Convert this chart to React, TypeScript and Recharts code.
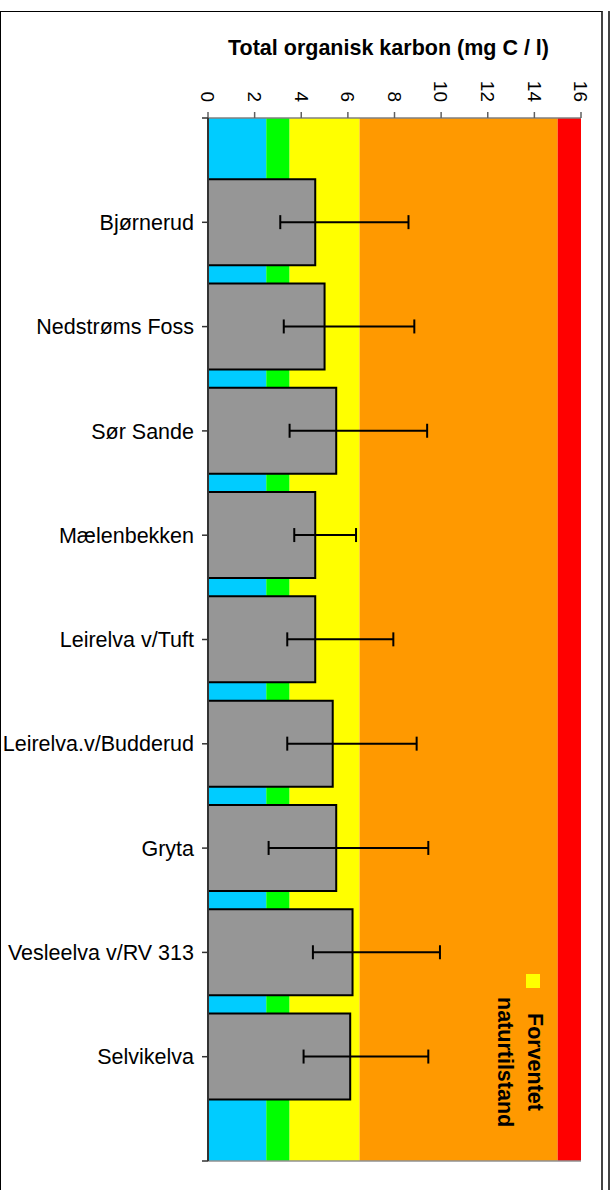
import React from 'react';
import {
  BarChart,
  Bar,
  XAxis,
  YAxis,
  ErrorBar,
  ReferenceArea,
  ReferenceLine,
  Legend,
  Customized,
} from 'recharts';

// ---- data ----
const SITES = [
  'Bjørnerud',
  'Nedstrøms Foss',
  'Sør Sande',
  'Mælenbekken',
  'Leirelva v/Tuft',
  'Leirelva.v/Budderud',
  'Gryta',
  'Vesleelva v/RV 313',
  'Selvikelva',
];
const MEAN = [4.6, 5.0, 5.5, 4.6, 4.6, 5.35, 5.5, 6.2, 6.1];
const LOW = [3.1, 3.25, 3.5, 3.7, 3.4, 3.4, 2.6, 4.5, 4.1];
const HIGH = [8.6, 8.85, 9.4, 6.35, 7.95, 8.95, 9.45, 9.95, 9.45];

const CLASS_LIMITS = [0, 2.5, 3.5, 6.5, 15, 16];
const CLASS_COLORS = ['#00CCFF', '#00FF00', '#FFFF00', '#FF9900', '#FF0000'];

const X_TICKS = [0, 2, 4, 6, 8, 10, 12, 14, 16];
const Y_TICKS = [0, 1, 2, 3, 4, 5, 6, 7, 8, 9, 10];

const TITLE = 'Total organisk karbon (mg C / l)';
const LEGEND_LINES = ['Forventet', 'naturtilstand'];
const LEGEND_COLOR = '#FFFF00';

const FONT = 'Arial, "Liberation Sans", sans-serif';

const data = SITES.map((name, i) => ({
  name,
  pos: i + 1,
  value: MEAN[i],
  err: [MEAN[i] - LOW[i], HIGH[i] - MEAN[i]],
}));

const XTick = (props: any) => {
  const { x, y, payload } = props;
  return (
    <text
      x={x}
      y={y}
      transform={`rotate(90, ${x}, ${y})`}
      textAnchor="end"
      dy="0.35em"
      fontSize={19}
      fontFamily={FONT}
      fill="#000"
    >
      {payload.value}
    </text>
  );
};

const yLabel = (v: number) => (v >= 1 && v <= SITES.length ? SITES[v - 1] : '');

const Title = () => (
  <text
    x={388.5}
    y={55}
    textAnchor="middle"
    fontSize={21.5}
    fontWeight="bold"
    fontFamily={FONT}
    fill="#000"
  >
    {TITLE}
  </text>
);

const LegendContent = () => (
  <div style={{ position: 'relative', width: 70, height: 170 }}>
    <div
      style={{
        position: 'absolute',
        left: 36,
        top: 0,
        width: 14,
        height: 14,
        background: LEGEND_COLOR,
      }}
    />
    <div
      style={{
        position: 'absolute',
        left: 0,
        top: 8,
        width: 60,
        height: 160,
        writingMode: 'vertical-rl',
        textAlign: 'center',
        fontFamily: FONT,
        fontWeight: 'bold',
        fontSize: 21.5,
        lineHeight: '30px',
        color: '#000',
      }}
    >
      {LEGEND_LINES[0]}
      <br />
      {LEGEND_LINES[1]}
    </div>
  </div>
);

export default function App() {
  return (
    <div
      style={{
        position: 'absolute',
        left: 0,
        top: 0,
        width: 610,
        height: 1190,
        background: '#fff',
        overflow: 'hidden',
      }}
    >
      <div
        style={{
          position: 'absolute',
          left: 0,
          top: 11,
          width: 600,
          height: 1200,
          borderTop: '1px solid #000',
          borderLeft: '1px solid #000',
          borderRight: '2px solid #444',
        }}
      />
      <div
        style={{
          position: 'absolute',
          left: 608,
          top: 11,
          width: 0,
          height: 1200,
          borderLeft: '2px solid #444',
        }}
      />
      <div style={{ position: 'absolute', left: 0, top: 0 }}>
        <BarChart
          width={610}
          height={1190}
          data={data}
          layout="vertical"
          margin={{ top: 58, right: 29, bottom: 29, left: 8 }}
        >
          {CLASS_COLORS.map((c, i) => (
            <ReferenceArea
              key={i}
              x1={CLASS_LIMITS[i]}
              x2={CLASS_LIMITS[i + 1]}
              fill={c}
              fillOpacity={1}
              stroke="none"
              ifOverflow="visible"
            />
          ))}
          <XAxis
            type="number"
            orientation="top"
            domain={[0, 16]}
            ticks={X_TICKS}
            interval={0}
            height={60}
            tickSize={6}
            tickMargin={10}
            axisLine={{ stroke: '#808080', strokeWidth: 1.5 }}
            tickLine={{ stroke: '#606060', strokeWidth: 1.5 }}
            tick={<XTick />}
          />
          <YAxis
            type="number"
            dataKey="pos"
            domain={[0, 10]}
            ticks={Y_TICKS}
            interval={0}
            width={200}
            tickSize={6}
            tickMargin={8}
            tickFormatter={yLabel}
            axisLine={{ stroke: '#333', strokeWidth: 2 }}
            tickLine={{ stroke: '#333', strokeWidth: 1.5 }}
            tick={{ fontSize: 21.5, fontFamily: FONT, fill: '#000' }}
          />
          <ReferenceLine y={10} stroke="#909090" strokeWidth={1.5} />
          <Bar
            dataKey="value"
            fill="#969696"
            stroke="#000"
            strokeWidth={2}
            barSize={86}
            isAnimationActive={false}
          >
            <ErrorBar
              dataKey="err"
              direction="x"
              width={7}
              stroke="#000"
              strokeWidth={2}
              isAnimationActive={false}
            />
          </Bar>
          <Legend
            layout="horizontal"
            verticalAlign="middle"
            align="center"
            content={<LegendContent />}
            wrapperStyle={{ position: 'absolute', left: 490, top: 974, width: 70, height: 170 }}
          />
          <Customized component={Title} />
        </BarChart>
      </div>
    </div>
  );
}
